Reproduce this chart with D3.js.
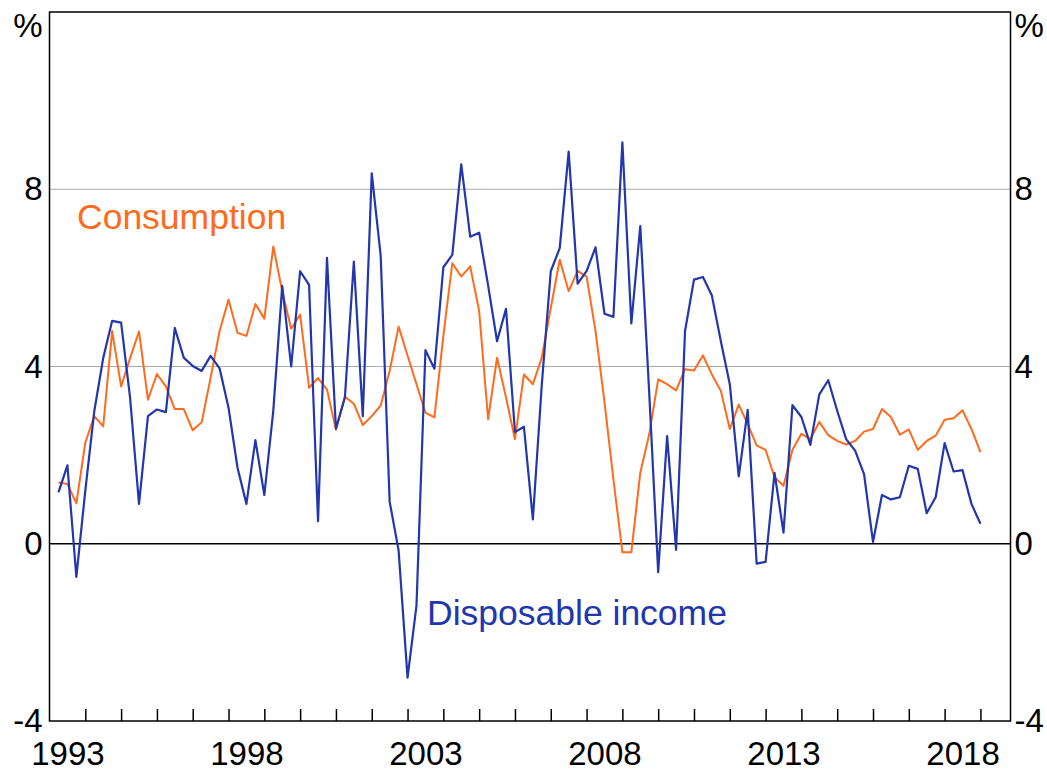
<!DOCTYPE html>
<html>
<head>
<meta charset="utf-8">
<script src="https://cdnjs.cloudflare.com/ajax/libs/d3/7.8.5/d3.min.js"></script>
<style>
    body { margin: 0; background: #fff; }
    svg { display: block; }
    .axis text { font-family: "Liberation Sans", Arial, sans-serif; font-size: 33px; fill: #000; }
    .axis .domain { display: none; }
    .label { font-family: "Liberation Sans", Arial, sans-serif; font-size: 35.5px; }
</style>
</head>
<body>
<div id="chart"></div>
<script>
(function() {
    var width = 1047,
        height = 771;

    var margin = {left: 49.5, top: 12, right: 36.5, bottom: 50};

    // quarterly series, first point is March quarter 1993
    var startYear = 1993;

    var consumption = [
        1.38, 1.35, 0.91, 2.28, 2.88, 2.65, 4.80, 3.55, 4.19, 4.79, 3.25, 3.83,
        3.55, 3.04, 3.04, 2.56, 2.74, 3.75, 4.80, 5.51, 4.76, 4.69, 5.41, 5.08,
        6.71, 5.70, 4.85, 5.17, 3.52, 3.74, 3.48, 2.57, 3.32, 3.16, 2.68, 2.88,
        3.12, 3.90, 4.90, 4.25, 3.60, 2.96, 2.85, 4.69, 6.33, 6.03, 6.26, 5.25,
        2.81, 4.20, 3.30, 2.36, 3.82, 3.60, 4.20, 5.32, 6.41, 5.70, 6.16, 6.03,
        4.80, 3.20, 1.45, -0.19, -0.19, 1.60, 2.47, 3.71, 3.60, 3.46, 3.94, 3.91,
        4.25, 3.82, 3.45, 2.59, 3.14, 2.70, 2.22, 2.12, 1.50, 1.31, 2.12, 2.48,
        2.36, 2.75, 2.45, 2.32, 2.24, 2.32, 2.53, 2.59, 3.04, 2.86, 2.46, 2.58,
        2.12, 2.32, 2.44, 2.80, 2.83, 3.01, 2.59, 2.07
    ];

    var disposableIncome = [
        1.16, 1.77, -0.75, 1.20, 2.99, 4.19, 5.03, 4.99, 3.30, 0.90, 2.88, 3.03,
        2.97, 4.87, 4.20, 4.01, 3.90, 4.24, 3.96, 3.07, 1.72, 0.90, 2.34, 1.10,
        3.00, 5.82, 4.00, 6.15, 5.84, 0.51, 6.45, 2.60, 3.30, 6.37, 2.88, 8.36,
        6.50, 0.95, -0.15, -3.02, -1.39, 4.37, 3.95, 6.24, 6.52, 8.56, 6.93, 7.02,
        5.83, 4.57, 5.30, 2.52, 2.64, 0.55, 3.60, 6.15, 6.67, 8.85, 5.87, 6.15,
        6.69, 5.19, 5.12, 9.06, 4.97, 7.17, 3.40, -0.64, 2.43, -0.14, 4.80, 5.96,
        6.02, 5.60, 4.57, 3.60, 1.52, 3.02, -0.45, -0.41, 1.60, 0.25, 3.13, 2.86,
        2.23, 3.37, 3.69, 3.00, 2.36, 2.10, 1.57, 0.04, 1.10, 1.00, 1.05, 1.76,
        1.69, 0.69, 1.05, 2.27, 1.63, 1.66, 0.90, 0.45
    ];

    var yTicks = [-4, 0, 4, 8];
    var gridTicks = [4, 8];
    var xLabelYears = [1993, 1998, 2003, 2008, 2013, 2018];
    var xTickYears = d3.range(1994, 2020);

    var orange = "#ff6a1c",
        blue = "#2236ad";

    // quarter-end dates as decimal years
    function quarterDate(i) { return startYear + 0.25 * (i + 1); }

    // plain hyphen for negatives, like the original
    function yFormat(d) { return String(d); }

    var xScale = d3.scaleLinear()
        .domain([1993, 2019.84])
        .range([margin.left, width - margin.right]);

    var yScale = d3.scaleLinear()
        .domain([-4, 12])
        .range([height - margin.bottom, margin.top]);

    var svg = d3.select("#chart")
        .append("svg")
        .attr("width", width)
        .attr("height", height);

    ///////////////////////// GRID //////////////////////////
    svg.selectAll(".grid")
        .data(gridTicks)
        .enter()
        .append("line")
        .attr("class", "grid")
        .attr("x1", xScale.range()[0])
        .attr("x2", xScale.range()[1])
        .attr("y1", function(d) { return yScale(d); })
        .attr("y2", function(d) { return yScale(d); })
        .style("stroke", "#ababab")
        .style("stroke-width", 1.2);

    svg.append("line")
        .attr("x1", xScale.range()[0])
        .attr("x2", xScale.range()[1])
        .attr("y1", yScale(0))
        .attr("y2", yScale(0))
        .style("stroke", "#000")
        .style("stroke-width", 1.5);

    ///////////////////////// LINES //////////////////////////
    var line = d3.line()
        .x(function(d, i) { return xScale(quarterDate(i)); })
        .y(function(d) { return yScale(d); });

    svg.append("path")
        .datum(consumption)
        .attr("d", line)
        .style("fill", "none")
        .style("stroke", orange)
        .style("stroke-width", 2)
        .style("stroke-linejoin", "round");

    svg.append("path")
        .datum(disposableIncome)
        .attr("d", line)
        .style("fill", "none")
        .style("stroke", blue)
        .style("stroke-width", 2.2)
        .style("stroke-linejoin", "round");

    ///////////////////////// FRAME + AXES //////////////////////////
    svg.append("rect")
        .attr("x", xScale.range()[0])
        .attr("y", yScale.range()[1])
        .attr("width", xScale.range()[1] - xScale.range()[0])
        .attr("height", yScale.range()[0] - yScale.range()[1])
        .style("fill", "none")
        .style("stroke", "#000")
        .style("stroke-width", 1.5);

    // year ticks on the inside of the bottom edge
    svg.append("g")
        .attr("class", "axis axis--x")
        .attr("transform", "translate(0," + yScale(-4) + ")")
        .call(d3.axisBottom(xScale).tickValues(xTickYears).tickSize(-12).tickFormat(""))
        .selectAll("line")
        .style("stroke", "#000")
        .style("stroke-width", 1.5);

    // year labels sit in the middle of each year
    svg.append("g")
        .attr("class", "axis axis--x-labels")
        .attr("transform", "translate(0," + yScale(-4) + ")")
        .call(d3.axisBottom(xScale)
            .tickValues(xLabelYears.map(function(d) { return d + 0.5; }))
            .tickSize(0)
            .tickPadding(21)
            .tickFormat(function(d) { return Math.floor(d); }));

    svg.append("g")
        .attr("class", "axis axis--y")
        .attr("transform", "translate(" + xScale.range()[0] + ",0)")
        .call(d3.axisLeft(yScale).tickValues(yTicks).tickSize(0).tickPadding(7).tickFormat(yFormat));

    svg.append("g")
        .attr("class", "axis axis--y2")
        .attr("transform", "translate(" + xScale.range()[1] + ",0)")
        .call(d3.axisRight(yScale).tickValues(yTicks).tickSize(0).tickPadding(4).tickFormat(yFormat));

    svg.append("text")
        .attr("class", "label")
        .attr("x", xScale.range()[0] - 7)
        .attr("y", 37)
        .attr("text-anchor", "end")
        .style("font-size", "33px")
        .text("%");

    svg.append("text")
        .attr("class", "label")
        .attr("x", xScale.range()[1] + 4)
        .attr("y", 37)
        .style("font-size", "33px")
        .text("%");

    ///////////////////////// SERIES LABELS //////////////////////////
    svg.append("text")
        .attr("class", "label")
        .attr("x", 77)
        .attr("y", 229)
        .style("fill", orange)
        .text("Consumption");

    svg.append("text")
        .attr("class", "label")
        .attr("x", 427)
        .attr("y", 625)
        .style("fill", blue)
        .text("Disposable income");
})();
</script>
</body>
</html>
